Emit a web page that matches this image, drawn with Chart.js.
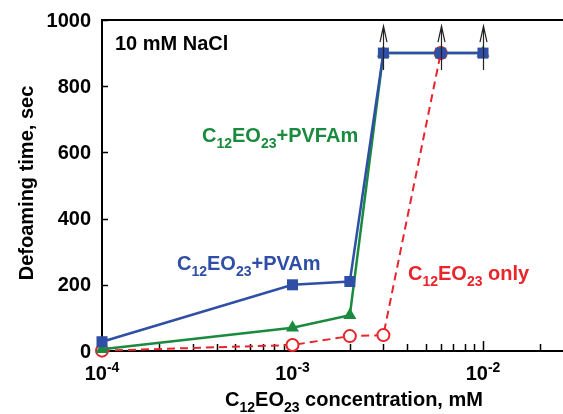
<!DOCTYPE html>
<html>
<head>
<meta charset="utf-8">
<script src="https://cdn.jsdelivr.net/npm/chart.js@4/dist/chart.umd.min.js"></script>
<style>
html,body{margin:0;padding:0;background:#fff;}
#wrap{width:563px;height:414px;position:relative;}
</style>
</head>
<body>
<div id="wrap"><canvas id="c" width="563" height="414"></canvas></div>
<script>
// ---- data ----
const concPVAm   = [1e-4, 1e-3, 2e-3, 3e-3, 6e-3, 1e-2];
const timePVAm   = [28, 200, 210, 900, 900, 900];
const concPVFAm  = [1e-4, 1e-3, 2e-3, 3e-3, 6e-3, 1e-2];
const timePVFAm  = [5, 70, 108, 900, 900, 900];
const concOnly   = [1e-4, 1e-3, 2e-3, 3e-3, 6e-3];
const timeOnly   = [1, 18, 45, 48, 900];
const arrowConc  = [3e-3, 6e-3, 1e-2];
const arrowTime  = [900, 900, 900];
const yTicks     = [0, 200, 400, 600, 800, 1000];
const xMajorTicks = [1e-4, 1e-3, 1e-2];
const xMajorExp   = ['-4', '-3', '-2'];

const BLUE = '#2f4fa6', GREEN = '#1a8a3e', RED = '#e8242c';
const FONT = '"Liberation Sans", Arial, Helvetica, sans-serif';

function pts(xs, ys){ return xs.map((x,i)=>({x:x, y:ys[i]})); }

function drawRich(ctx, parts, x, y, align, size, color){
  const sub = Math.round(size*0.7);
  let w = 0;
  parts.forEach(p=>{
    ctx.font = 'bold ' + (p.s ? sub : size) + 'px ' + FONT;
    p.w = ctx.measureText(p.t).width;
    w += p.w;
  });
  let cx = align === 'center' ? x - w/2 : (align === 'right' ? x - w : x);
  ctx.fillStyle = color;
  ctx.textAlign = 'left';
  ctx.textBaseline = 'alphabetic';
  parts.forEach(p=>{
    ctx.font = 'bold ' + (p.s ? sub : size) + 'px ' + FONT;
    let dy = 0;
    if (p.s === 'sub') dy = size*0.28;
    if (p.s === 'sup') dy = -size*0.42;
    ctx.fillText(p.t, cx, y + dy);
    cx += p.w;
  });
}

const axesPlugin = {
  id: 'axesPlugin',
  beforeDatasetsDraw(chart){
    const ctx = chart.ctx, a = chart.chartArea;
    const xs = chart.scales.x, ys = chart.scales.y;
    ctx.save();
    ctx.strokeStyle = '#000';
    ctx.lineWidth = 2;
    ctx.beginPath();
    ctx.moveTo(a.left, a.top); ctx.lineTo(a.right, a.top);
    ctx.moveTo(a.left, a.top-1); ctx.lineTo(a.left, a.bottom);
    ctx.moveTo(a.left-1, a.bottom); ctx.lineTo(a.right, a.bottom);
    ctx.stroke();
    // y ticks (inward)
    ctx.lineWidth = 1.5;
    ctx.beginPath();
    yTicks.forEach(v=>{
      const py = Math.round(ys.getPixelForValue(v)) + 0.5;
      ctx.moveTo(a.left, py); ctx.lineTo(a.left + 6, py);
    });
    ctx.stroke();
    // x ticks (inward), majors and minors
    ctx.beginPath();
    for (let e = -4; e <= -2; e++){
      for (let m = 1; m <= 9; m++){
        const v = m * Math.pow(10, e);
        if (v > xs.max) break;
        const px = Math.round(xs.getPixelForValue(v)) + 0.5;
        const len = m === 1 ? 10 : 7;
        ctx.moveTo(px, a.bottom); ctx.lineTo(px, a.bottom - len);
      }
    }
    ctx.stroke();
    // y tick labels
    ctx.fillStyle = '#000';
    ctx.font = 'bold 20px ' + FONT;
    ctx.textAlign = 'right';
    ctx.textBaseline = 'middle';
    yTicks.forEach(v=>{
      ctx.fillText(String(v), a.left - 11, ys.getPixelForValue(v) + 1);
    });
    // x tick labels
    xMajorTicks.forEach((v,i)=>{
      drawRich(ctx, [{t:'10'},{t:xMajorExp[i], s:'sup'}], xs.getPixelForValue(v), 380, 'center', 20, '#000');
    });
    // axis titles
    drawRich(ctx, [{t:'C'},{t:'12',s:'sub'},{t:'EO'},{t:'23',s:'sub'},{t:' concentration, mM'}], 354, 406, 'center', 20, '#000');
    ctx.save();
    ctx.translate(33, 183);
    ctx.rotate(-Math.PI/2);
    drawRich(ctx, [{t:'Defoaming time, sec'}], 0, 0, 'center', 20, '#000');
    ctx.restore();
    // annotations
    drawRich(ctx, [{t:'10 mM NaCl'}], 115, 50, 'left', 20, '#000');
    drawRich(ctx, [{t:'C'},{t:'12',s:'sub'},{t:'EO'},{t:'23',s:'sub'},{t:'+PVFAm'}], 202, 142, 'left', 20, GREEN);
    drawRich(ctx, [{t:'C'},{t:'12',s:'sub'},{t:'EO'},{t:'23',s:'sub'},{t:'+PVAm'}], 177, 270, 'left', 20, BLUE);
    drawRich(ctx, [{t:'C'},{t:'12',s:'sub'},{t:'EO'},{t:'23',s:'sub'},{t:' only'}], 408, 280, 'left', 20, RED);
    ctx.restore();
  },
  afterDatasetsDraw(chart){
    const ctx = chart.ctx;
    const xs = chart.scales.x, ys = chart.scales.y;
    ctx.save();
    ctx.strokeStyle = '#222';
    ctx.lineWidth = 1.2;
    arrowConc.forEach((c,i)=>{
      const px = Math.round(xs.getPixelForValue(c)) + 0.5;
      const py = ys.getPixelForValue(arrowTime[i]);
      const tip = py - 27, tail = py + 17;
      ctx.beginPath();
      ctx.moveTo(px, tail); ctx.lineTo(px, tip);
      ctx.moveTo(px - 3.5, tip + 16); ctx.lineTo(px, tip); ctx.lineTo(px + 3.5, tip + 16);
      ctx.stroke();
    });
    ctx.restore();
  }
};

new Chart(document.getElementById('c'), {
  type: 'line',
  data: {
    datasets: [
      {
        label: 'C12EO23 only',
        data: pts(concOnly, timeOnly),
        borderColor: RED, borderWidth: 2, borderDash: [8, 5],
        pointStyle: 'circle', pointRadius: 6, pointBorderWidth: 2,
        pointBackgroundColor: '#fff', pointBorderColor: RED,
        clip: false, order: 3
      },
      {
        label: 'C12EO23+PVFAm',
        data: pts(concPVFAm, timePVFAm),
        borderColor: GREEN, borderWidth: 2.5,
        pointStyle: 'triangle', pointRadius: 7.5, pointBorderWidth: 0,
        pointBackgroundColor: GREEN, pointBorderColor: GREEN,
        clip: false, order: 2
      },
      {
        label: 'C12EO23+PVAm',
        data: pts(concPVAm, timePVAm),
        borderColor: BLUE, borderWidth: 2.5,
        pointStyle: 'rect', pointRadius: 7.8, pointBorderWidth: 0,
        pointBackgroundColor: BLUE, pointBorderColor: BLUE,
        clip: false, order: 1
      }
    ]
  },
  options: {
    responsive: false,
    animation: false,
    events: [],
    layout: { autoPadding: false, padding: { left: 102, top: 20, right: 0, bottom: 63 } },
    plugins: { legend: { display: false }, tooltip: { enabled: false } },
    scales: {
      x: { type: 'logarithmic', min: 1e-4, max: 0.0263, display: false },
      y: { type: 'linear', min: 0, max: 1000, display: false }
    }
  },
  plugins: [axesPlugin]
});
</script>
</body>
</html>
